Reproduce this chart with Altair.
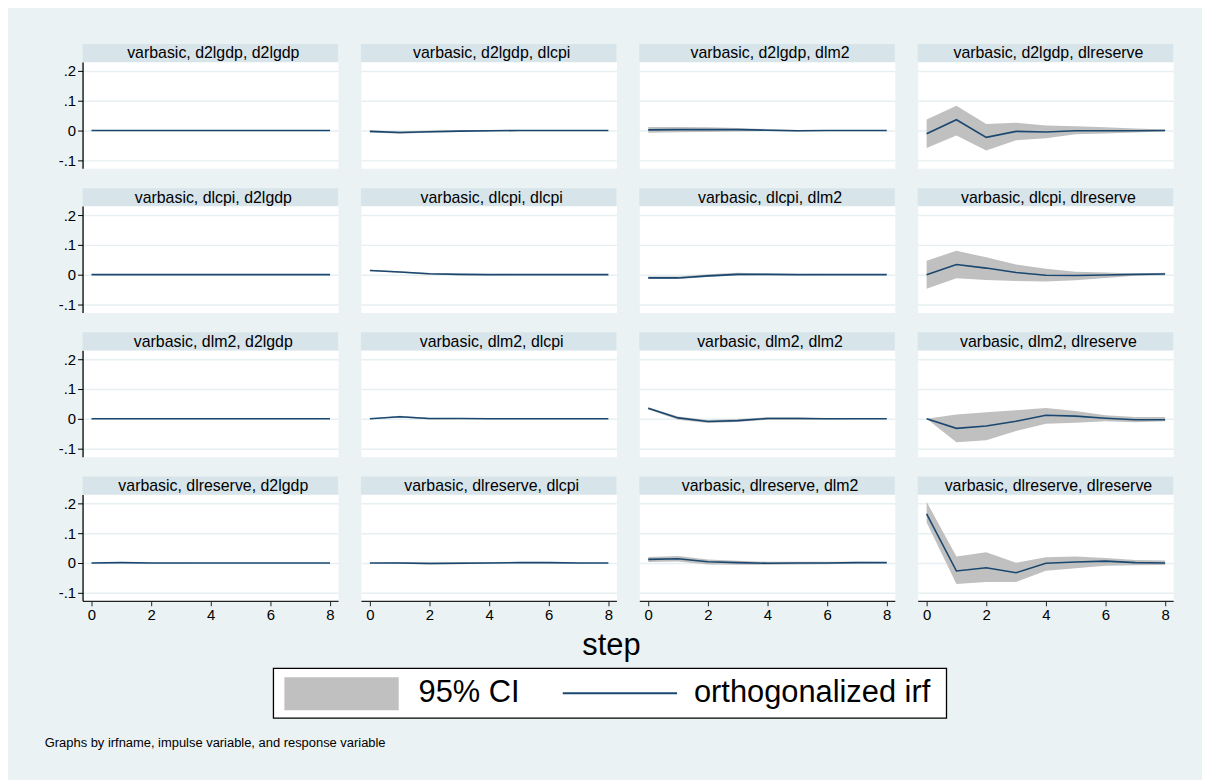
import altair as alt
import pandas as pd

# ---------------- data ----------------
IRF_NAME = "varbasic"
STEPS = [0, 1, 2, 3, 4, 5, 6, 7, 8]
IMPULSES = ["d2lgdp", "dlcpi", "dlm2", "dlreserve"]
RESPONSES = ["d2lgdp", "dlcpi", "dlm2", "dlreserve"]

Y_TICKS = [-0.1, 0.0, 0.1, 0.2]
Y_TICK_LABELS = ["-.1", "0", ".1", ".2"]
X_TICKS = [0, 2, 4, 6, 8]
X_TITLE = "step"
LEGEND_LABELS = ["95% CI", "orthogonalized irf"]
NOTE = "Graphs by irfname, impulse variable, and response variable"

# impulse d2lgdp
IRF_d2lgdp_d2lgdp = [0, 0, 0, 0, 0, 0, 0, 0, 0]
LO_d2lgdp_d2lgdp = [0, 0, 0, 0, 0, 0, 0, 0, 0]
HI_d2lgdp_d2lgdp = [0, 0, 0, 0, 0, 0, 0, 0, 0]
IRF_d2lgdp_dlcpi = [-0.003, -0.007, -0.004, -0.002, -0.001, 0.0, 0.0, 0.0, 0.0]
LO_d2lgdp_dlcpi = [-0.007, -0.011, -0.008, -0.005, -0.003, -0.002, -0.001, -0.001, 0.0]
HI_d2lgdp_dlcpi = [0.001, -0.003, 0.0, 0.001, 0.001, 0.001, 0.001, 0.001, 0.0]
IRF_d2lgdp_dlm2 = [0.002, 0.003, 0.003, 0.003, 0.001, -0.001, 0.0, 0.0, 0.0]
LO_d2lgdp_dlm2 = [-0.008, -0.006, -0.005, -0.003, -0.002, -0.003, -0.002, -0.001, 0.0]
HI_d2lgdp_dlm2 = [0.012, 0.012, 0.011, 0.008, 0.005, 0.002, 0.002, 0.001, 0.0]
IRF_d2lgdp_dlreserve = [-0.011, 0.036, -0.023, -0.003, -0.005, -0.001, -0.001, -0.001, 0.0]
LO_d2lgdp_dlreserve = [-0.059, -0.017, -0.067, -0.033, -0.026, -0.013, -0.010, -0.007, -0.003]
HI_d2lgdp_dlreserve = [0.037, 0.083, 0.022, 0.026, 0.017, 0.014, 0.011, 0.007, 0.003]

# impulse dlcpi
IRF_dlcpi_d2lgdp = [0, 0, 0, 0, 0, 0, 0, 0, 0]
LO_dlcpi_d2lgdp = [0, 0, 0, 0, 0, 0, 0, 0, 0]
HI_dlcpi_d2lgdp = [0, 0, 0, 0, 0, 0, 0, 0, 0]
IRF_dlcpi_dlcpi = [0.014, 0.009, 0.003, 0.001, 0.0, 0.0, 0.0, 0.0, 0.0]
LO_dlcpi_dlcpi = [0.012, 0.006, 0.0, -0.002, -0.002, -0.001, -0.001, 0.0, 0.0]
HI_dlcpi_dlcpi = [0.016, 0.011, 0.005, 0.003, 0.002, 0.001, 0.001, 0.0, 0.0]
IRF_dlcpi_dlm2 = [-0.011, -0.011, -0.004, 0.001, 0.001, 0.0, 0.0, 0.0, 0.0]
LO_dlcpi_dlm2 = [-0.015, -0.015, -0.008, -0.003, -0.002, -0.002, -0.001, -0.001, 0.0]
HI_dlcpi_dlm2 = [-0.006, -0.006, 0.001, 0.006, 0.004, 0.002, 0.001, 0.001, 0.0]
IRF_dlcpi_dlreserve = [0.0, 0.034, 0.022, 0.007, -0.002, -0.003, -0.001, 0.001, 0.002]
LO_dlcpi_dlreserve = [-0.047, -0.012, -0.018, -0.021, -0.023, -0.019, -0.011, -0.004, -0.002]
HI_dlcpi_dlreserve = [0.047, 0.080, 0.058, 0.034, 0.020, 0.010, 0.007, 0.004, 0.006]

# impulse dlm2
IRF_dlm2_d2lgdp = [0, 0, 0, 0, 0, 0, 0, 0, 0]
LO_dlm2_d2lgdp = [0, 0, 0, 0, 0, 0, 0, 0, 0]
HI_dlm2_d2lgdp = [0, 0, 0, 0, 0, 0, 0, 0, 0]
IRF_dlm2_dlcpi = [0.0, 0.007, 0.001, 0.001, 0.0, 0.0, 0.0, 0.0, 0.0]
LO_dlm2_dlcpi = [0.0, 0.004, -0.002, -0.001, -0.001, -0.001, 0.0, 0.0, 0.0]
HI_dlm2_dlcpi = [0.0, 0.010, 0.003, 0.002, 0.001, 0.001, 0.0, 0.0, 0.0]
IRF_dlm2_dlm2 = [0.035, 0.003, -0.009, -0.006, 0.001, 0.001, 0.0, 0.0, 0.0]
LO_dlm2_dlm2 = [0.031, -0.003, -0.014, -0.011, -0.003, -0.003, -0.002, -0.001, -0.001]
HI_dlm2_dlm2 = [0.039, 0.008, -0.004, -0.001, 0.005, 0.005, 0.002, 0.001, 0.001]
IRF_dlm2_dlreserve = [0.0, -0.032, -0.024, -0.008, 0.012, 0.009, 0.002, -0.003, -0.003]
LO_dlm2_dlreserve = [0.0, -0.079, -0.072, -0.041, -0.017, -0.013, -0.008, -0.012, -0.008]
HI_dlm2_dlreserve = [0.0, 0.014, 0.022, 0.029, 0.036, 0.026, 0.012, 0.006, 0.006]

# impulse dlreserve
IRF_dlreserve_d2lgdp = [0.0, 0.001, 0.0, 0.0, 0.0, 0.0, 0.0, 0.0, 0.0]
LO_dlreserve_d2lgdp = [0.0, 0.0, -0.001, -0.001, 0.0, 0.0, 0.0, 0.0, 0.0]
HI_dlreserve_d2lgdp = [0.0, 0.002, 0.001, 0.001, 0.0, 0.0, 0.0, 0.0, 0.0]
IRF_dlreserve_dlcpi = [0.0, 0.0, -0.002, -0.001, 0.0, 0.001, 0.001, 0.0, 0.0]
LO_dlreserve_dlcpi = [0.0, -0.003, -0.005, -0.004, -0.002, -0.001, -0.001, -0.001, 0.0]
HI_dlreserve_dlcpi = [0.0, 0.003, 0.002, 0.003, 0.002, 0.002, 0.002, 0.001, 0.0]
IRF_dlreserve_dlm2 = [0.012, 0.014, 0.004, 0.001, -0.001, 0.0, 0.0, 0.001, 0.001]
LO_dlreserve_dlm2 = [0.003, 0.005, -0.005, -0.006, -0.006, -0.005, -0.004, -0.002, -0.001]
HI_dlreserve_dlm2 = [0.020, 0.023, 0.012, 0.007, 0.004, 0.004, 0.004, 0.004, 0.003]
IRF_dlreserve_dlreserve = [0.165, -0.027, -0.016, -0.033, -0.001, 0.003, 0.006, 0.001, 0.0]
LO_dlreserve_dlreserve = [0.136, -0.071, -0.064, -0.064, -0.026, -0.018, -0.009, -0.008, -0.007]
HI_dlreserve_dlreserve = [0.205, 0.022, 0.036, 0.001, 0.019, 0.022, 0.017, 0.010, 0.008]

# ---------------- style ----------------
FONT = "Liberation Sans"
BG = "#eaf2f3"
STRIP = "#d7e4ea"
GRID = "#e6eff1"
CI_COLOR = "#c0c0c0"
NAVY = "#1a476f"

W, H, STRIP_H = 257, 107, 18
X_DOMAIN = [-0.3, 8.27]
Y_DOMAIN = [-0.127, 0.23]


def label_expr(vals, labs):
    expr = f"'{labs[-1]}'"
    for v, l in reversed(list(zip(vals[:-1], labs[:-1]))):
        expr = f"abs(datum.value - ({v})) < 0.001 ? '{l}' : " + expr
    return expr


def series(prefix, imp, resp):
    return globals()[f"{prefix}_{imp}_{resp}"]


def panel(imp, resp, r, c):
    df = pd.DataFrame({
        "step": STEPS,
        "irf": series("IRF", imp, resp),
        "lo": series("LO", imp, resp),
        "hi": series("HI", imp, resp),
    })
    xscale = alt.Scale(domain=X_DOMAIN, nice=False, zero=False)
    yscale = alt.Scale(domain=Y_DOMAIN, nice=False, zero=False)
    if c == 0:
        yaxis = alt.Axis(values=Y_TICKS, tickCount=len(Y_TICKS) + 2,
                         labelExpr=label_expr(Y_TICKS, Y_TICK_LABELS),
                         grid=True, gridColor=GRID, gridWidth=1.5,
                         domainColor="black", domainWidth=1.3,
                         tickColor="black", tickSize=5, tickWidth=1,
                         labelFontSize=15, labelColor="black", labelPadding=2,
                         labelFont=FONT, labelOverlap=False, title=None, minExtent=38)
    else:
        yaxis = alt.Axis(values=Y_TICKS, tickCount=len(Y_TICKS) + 2,
                         grid=True, gridColor=GRID, gridWidth=1.5,
                         domain=False, ticks=False, labels=False, title=None)
    if r == 3:
        xaxis = alt.Axis(values=X_TICKS, tickCount=len(X_TICKS) + 2, format="d", grid=False,
                         domainColor="#222222", domainWidth=1.3,
                         tickColor="#222222", tickSize=5, tickWidth=1,
                         labelFontSize=15, labelColor="black", labelPadding=2,
                         labelFont=FONT, labelFlush=False, labelOverlap=False,
                         title=None)
    else:
        xaxis = None

    band = alt.Chart(df).mark_area(color=CI_COLOR, opacity=1).encode(
        x=alt.X("step:Q", scale=xscale, axis=xaxis),
        y=alt.Y("lo:Q", scale=yscale, axis=yaxis),
        y2="hi:Q",
    )
    line = alt.Chart(df).mark_line(color=NAVY, strokeWidth=1.6).encode(
        x="step:Q", y="irf:Q"
    )
    tdf = pd.DataFrame({"label": [f"{IRF_NAME}, {imp}, {resp}"]})
    strip = alt.Chart(tdf).mark_rect(color=STRIP).encode(
        x=alt.value(0), x2=alt.value(W), y=alt.value(-STRIP_H), y2=alt.value(0)
    )
    strip_text = alt.Chart(tdf).mark_text(
        fontSize=16, font=FONT, color="black", align="center", baseline="middle"
    ).encode(text="label:N", x=alt.value(W / 2 + 3), y=alt.value(-STRIP_H / 2 + 0.5))
    return alt.layer(strip, strip_text, band, line).properties(
        width=W, height=H, view=alt.ViewBackground(fill="white", stroke="transparent")
    )


rows = []
for r, imp in enumerate(IMPULSES):
    rows.append(alt.hconcat(*[panel(imp, resp, r, c) for c, resp in enumerate(RESPONSES)],
                            spacing=21))
grid = alt.vconcat(*rows, spacing=18)

# ---------------- footer: axis title, legend, note ----------------
# x positions are relative to the left edge of the first plot column
one = pd.DataFrame({"step_title": [X_TITLE], "ci": [LEGEND_LABELS[0]],
                    "irf": [LEGEND_LABELS[1]], "note": [NOTE]})
FW, FH = 1092, 143
LEG_Y = 69
step_txt = alt.Chart(one).mark_text(fontSize=31, font=FONT, color="black",
                                    align="center", baseline="middle").encode(
    text="step_title:N", x=alt.value(532), y=alt.value(22))
box = alt.Chart(one).mark_rect(fill="white", stroke="black", strokeWidth=1.3).encode(
    x=alt.value(192), x2=alt.value(869), y=alt.value(44), y2=alt.value(94))
swatch = alt.Chart(one).mark_rect(color=CI_COLOR).encode(
    x=alt.value(203), x2=alt.value(318), y=alt.value(53), y2=alt.value(86))
leg_line = alt.Chart(one).mark_rule(color=NAVY, strokeWidth=2.2).encode(
    x=alt.value(483), x2=alt.value(598), y=alt.value(LEG_Y))
ci_txt = alt.Chart(one).mark_text(fontSize=31, font=FONT, color="black",
                                  align="left", baseline="middle").encode(
    text="ci:N", x=alt.value(338), y=alt.value(LEG_Y))
irf_txt = alt.Chart(one).mark_text(fontSize=31, font=FONT, color="black",
                                   align="left", baseline="middle").encode(
    text="irf:N", x=alt.value(615), y=alt.value(LEG_Y))
note_txt = alt.Chart(one).mark_text(fontSize=13, font=FONT, color="black",
                                    align="left", baseline="middle").encode(
    text="note:N", x=alt.value(-38), y=alt.value(119))
footer = alt.layer(step_txt, box, swatch, leg_line, ci_txt, irf_txt, note_txt).properties(
    width=FW, height=FH, view=alt.ViewBackground(fill=BG, stroke="transparent"))

chart = alt.vconcat(grid, footer, spacing=0).properties(
    padding={"left": 36, "top": 33, "right": 28, "bottom": 12},
    background=BG,
).configure_view(strokeWidth=0).configure(font=FONT)

chart.save("out.html", embed_options={"renderer": "svg", "actions": False})
